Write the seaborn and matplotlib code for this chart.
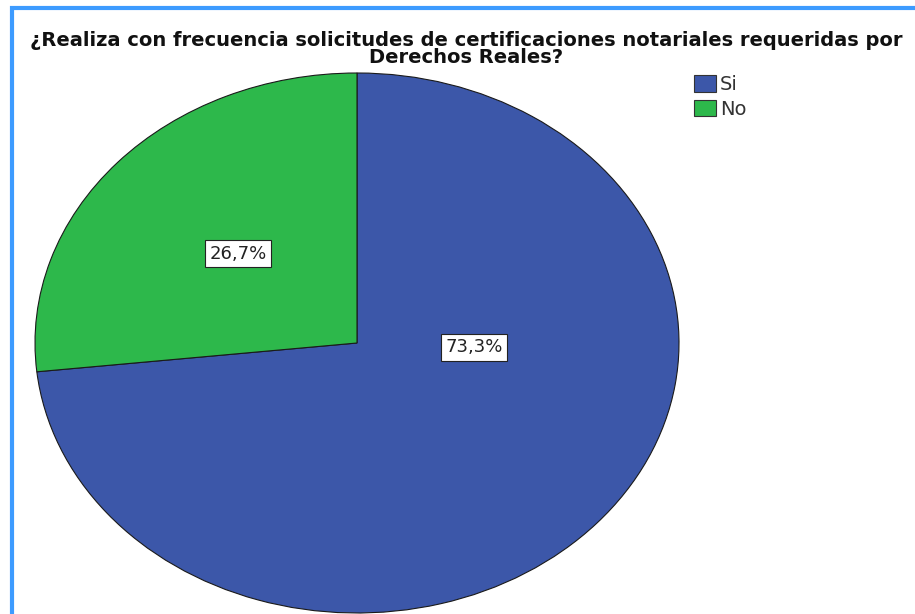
import matplotlib
matplotlib.use("Agg")
import matplotlib.pyplot as plt
import seaborn as sns
from matplotlib.patches import Rectangle, Patch

categories = ["Si", "No"]
percentages = [73.3, 26.7]
slice_colors = ["#3C57A9", "#2DB84B"]
label_texts = ["73,3%", "26,7%"]
title = ("¿Realiza con frecuencia solicitudes de certificaciones notariales requeridas por\n"
         "Derechos Reales?")

sns.set_style("white")
plt.rcParams["font.family"] = ["DejaVu Sans"]

W, H = 915, 614
fig = plt.figure(figsize=(W / 100, H / 100), dpi=100)

# light blue frame around the chart (left and top edges visible)
fig.patches.append(Rectangle((11.5 / W, -0.1), 1.2, 1.1 - 8.5 / H,
                             transform=fig.transFigure, fill=False,
                             edgecolor="#3D9BFF", linewidth=3, zorder=0))

# elliptical pie: axes spans the ellipse bounding box
ax = fig.add_axes([35 / W, 1 - 613 / H, 644 / W, 540 / H])
wedges, texts, autotexts = ax.pie(
    percentages, colors=slice_colors, startangle=90, counterclock=False,
    autopct=lambda p: "", wedgeprops=dict(edgecolor="#1a1a1a", linewidth=0.8),
)
ax.set_aspect("auto")
ax.set_xlim(-1, 1)
ax.set_ylim(-1, 1)
ax.axis("off")

label_pos = [(0.363, -0.015), (-0.370, 0.330)]
for t, txt, pos in zip(autotexts, label_texts, label_pos):
    t.set_text(txt)
    t.set_position(pos)
    t.set_fontsize(13)
    t.set_color("#222222")
    t.set_ha("center")
    t.set_va("center")
    t.set_bbox(dict(boxstyle="square,pad=0.25", facecolor="white",
                    edgecolor="#222222", linewidth=0.8))

fig.text(0.5 * (30 + 903) / W, 1 - 49 / H, title, ha="center", va="center",
         fontsize=14, fontweight="bold", linespacing=0.85, color="#111111")

handles = [Patch(facecolor=c, edgecolor="#333333", linewidth=0.8) for c in slice_colors]
fig.legend(handles, categories, loc="upper left", bbox_to_anchor=(694 / W, 1 - 75 / H),
           frameon=False, fontsize=14, handlelength=1.13, handleheight=0.93,
           handletextpad=0.2, labelspacing=0.3, labelcolor="#333333",
           borderaxespad=0, borderpad=0)

fig.savefig("out.png", dpi=100)
